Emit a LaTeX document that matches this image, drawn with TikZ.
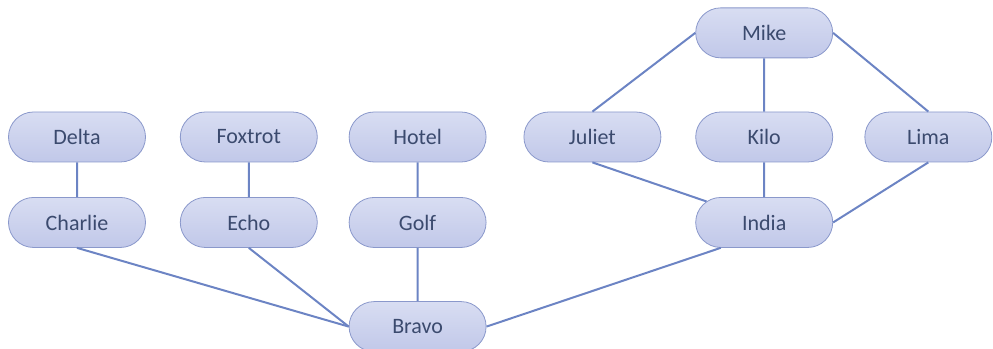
\documentclass[tikz,border=0pt]{standalone}
\usepackage{fontspec}
\setmainfont{Carlito}
\usetikzlibrary{positioning, shapes.misc}

\definecolor{pilltop}{HTML}{D8DDF2}
\definecolor{pillbot}{HTML}{C1C8E9}
\definecolor{pilldraw}{HTML}{8A98CB}
\definecolor{pilltext}{HTML}{3B4A6E}
\definecolor{linkblue}{HTML}{6C84C4}

\begin{document}
\begin{tikzpicture}[
  node distance=26pt and 25.5pt,
  pill/.style={rounded rectangle, draw=pilldraw, line width=0.6pt,
               top color=pilltop, bottom color=pillbot, text=pilltext,
               minimum width=102.75pt, minimum height=37.5pt, inner sep=0pt,
               font=\fontsize{16.5}{19}\selectfont},
  ln/.style={draw=linkblue, line width=1.5pt}
]
\node[pill] (delta) {Delta};
\useasboundingbox ([xshift=-57.75pt, yshift=102.75pt]delta.center)
  rectangle ([xshift=687pt, yshift=-159pt]delta.center);

\node[pill, below=of delta] (charlie) {Charlie};
\node[pill, right=of delta] (foxtrot) {Foxtrot};
\node[pill, below=of foxtrot] (echo) {Echo};
\node[pill, right=23.25pt of foxtrot] (hotel) {Hotel};
\node[pill, below=of hotel] (golf) {Golf};
\node[pill, below=40pt of golf] (bravo) {Bravo};
\node[pill, right=27.75pt of hotel] (juliet) {Juliet};
\node[pill, right=25.5pt of juliet] (kilo) {Kilo};
\node[pill, right=23.5pt of kilo, minimum width=95.25pt] (lima) {Lima};
\node[pill, above=40pt of kilo] (mike) {Mike};
\node[pill, below=of kilo] (india) {India};

\draw[ln] (delta) -- (charlie);
\draw[ln] (foxtrot) -- (echo);
\draw[ln] (hotel) -- (golf);
\draw[ln] (charlie.south) -- (bravo.west);
\draw[ln] (echo.south) -- (bravo.west);
\draw[ln] (golf) -- (bravo);
\draw[ln] (bravo.east) -- (india.south west);
\draw[ln] (juliet.south) -- (india.160);
\draw[ln] (kilo) -- (india);
\draw[ln] (lima.south) -- (india.east);
\draw[ln] (mike.west) -- (juliet.north);
\draw[ln] (mike) -- (kilo);
\draw[ln] (mike.east) -- (lima.north);
\end{tikzpicture}
\end{document}
